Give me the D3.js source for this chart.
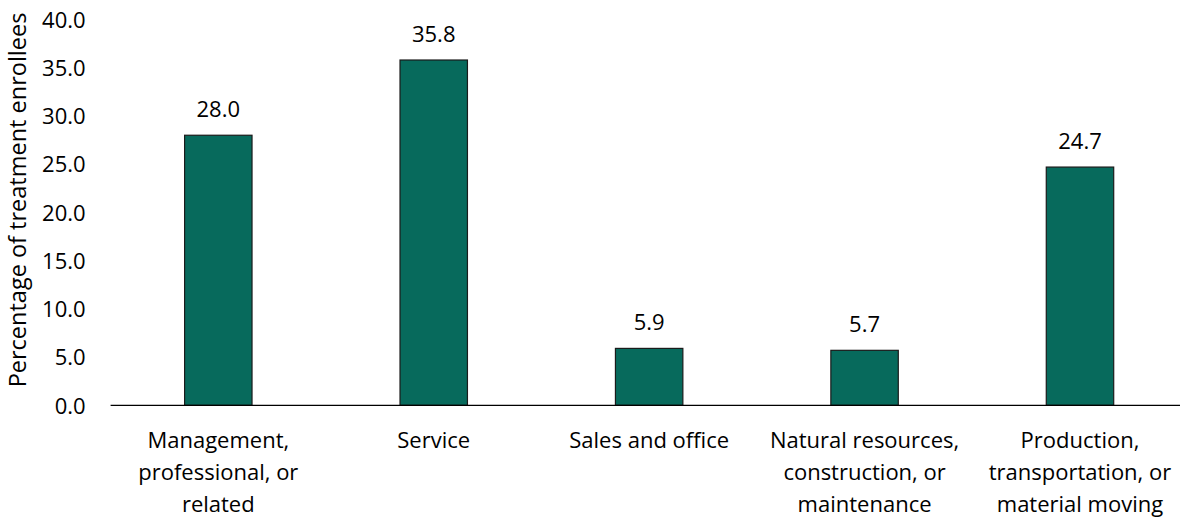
<!DOCTYPE html>
<html>
<head>
<meta charset="utf-8">
<script src="https://cdn.jsdelivr.net/npm/d3@7"></script>
<style>
  html, body { margin: 0; padding: 0; background: #fff; }
  svg { display: block; font-family: "Open Sans", "Noto Sans", sans-serif; }
</style>
</head>
<body>
<svg id="chart" width="1180" height="517"></svg>
<script>
// Occupation categories (line breaks mark how each label wraps)
const categories = [
  "Management,\nprofessional, or\nrelated",
  "Service",
  "Sales and office",
  "Natural resources,\nconstruction, or\nmaintenance",
  "Production,\ntransportation, or\nmaterial moving"
];
// Share of treatment enrollees in each category (%)
const values = [28.0, 35.8, 5.9, 5.7, 24.7];
const yTicks = [0, 5, 10, 15, 20, 25, 30, 35, 40];
const yTitle = "Percentage of treatment enrollees";

const svg = d3.select("#chart");
const plotLeft = 110.6, plotRight = 1187.7, plotTop = 19.5, plotBottom = 405.3;
const barFrac = 0.313;

const x = d3.scaleBand()
  .domain(categories)
  .range([plotLeft, plotRight])
  .paddingInner(1 - barFrac)
  .paddingOuter((1 - barFrac) / 2);

const y = d3.scaleLinear().domain([0, 40]).range([plotBottom, plotTop]);

// Y axis: tick labels only, no axis line
const yAxis = svg.append("g")
  .attr("transform", `translate(${plotLeft - 25},0)`)
  .call(d3.axisLeft(y).tickValues(yTicks).tickFormat(d3.format(".1f")).tickSize(0).tickPadding(0));
yAxis.select(".domain").remove();
yAxis.selectAll("text")
  .attr("font-size", 22)
  .attr("font-family", "'Open Sans', 'Noto Sans', sans-serif")
  .attr("fill", "#000")
  .attr("dy", "0.35em");

// Y axis title
svg.append("text")
  .attr("transform", "translate(26,200) rotate(-90)")
  .attr("text-anchor", "middle")
  .attr("font-size", 23.5)
  .attr("fill", "#000")
  .text(yTitle);

// Bars
svg.append("g").selectAll("rect")
  .data(values)
  .join("rect")
  .attr("x", (d, i) => x(categories[i]))
  .attr("y", d => y(d))
  .attr("width", x.bandwidth())
  .attr("height", d => y(0) - y(d))
  .attr("fill", "#076a5c")
  .attr("stroke", "#1b1b1b")
  .attr("stroke-width", 1.2);

// Value labels above the bars
svg.append("g").selectAll("text")
  .data(values)
  .join("text")
  .attr("x", (d, i) => x(categories[i]) + x.bandwidth() / 2)
  .attr("y", d => y(d) - 18)
  .attr("text-anchor", "middle")
  .attr("font-size", 22)
  .attr("fill", "#000")
  .text(d => d3.format(".1f")(d));

// Baseline
svg.append("line")
  .attr("x1", plotLeft).attr("x2", plotRight)
  .attr("y1", y(0)).attr("y2", y(0))
  .attr("stroke", "#000")
  .attr("stroke-width", 1.2);

// Category labels
const xAxis = svg.append("g");
categories.forEach(cat => {
  const t = xAxis.append("text")
    .attr("x", x(cat) + x.bandwidth() / 2)
    .attr("y", 448)
    .attr("text-anchor", "middle")
    .attr("font-size", 22)
    .attr("fill", "#000");
  cat.split("\n").forEach((line, j) => {
    t.append("tspan")
      .attr("x", x(cat) + x.bandwidth() / 2)
      .attr("dy", j === 0 ? 0 : 32)
      .text(line);
  });
});
</script>
</body>
</html>
